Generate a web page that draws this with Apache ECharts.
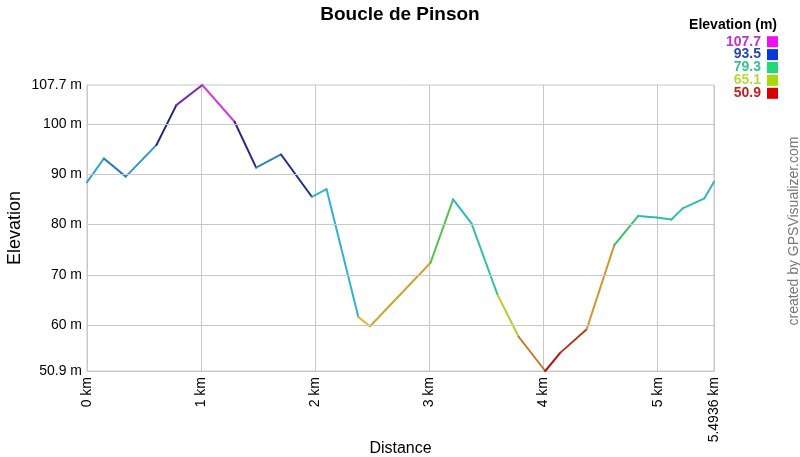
<!DOCTYPE html>
<html><head><meta charset="utf-8">
<script src="https://cdn.jsdelivr.net/npm/echarts@6/dist/echarts.min.js"></script>
<style>html,body{margin:0;padding:0;background:#fff}#c{width:800px;height:457px}</style>
</head><body><div id="c"></div>
<script>
const title = 'Boucle de Pinson';
const distanceKm = [0, 0.148, 0.34, 0.609, 0.783, 1.01, 1.293, 1.482, 1.70, 1.97, 2.099, 2.378, 2.480, 3.010, 3.208, 3.369, 3.598, 3.782, 4.015, 4.146, 4.378, 4.620, 4.830, 4.99, 5.12, 5.22, 5.41, 5.4936];
const elevationM = [88.4, 93.1, 89.5, 95.8, 103.7, 107.7, 100.4, 91.3, 93.9, 85.5, 87.0, 61.6, 59.8, 72.4, 85.0, 80.2, 66.0, 57.7, 50.9, 54.5, 59.2, 75.9, 81.7, 81.4, 81.0, 83.2, 85.2, 88.5];
const yTicks = [50.9, 60, 70, 80, 90, 100, 107.7];
const xMax = 5.4936;
const legendValues = [107.7, 93.5, 79.3, 65.1, 50.9];
const legendTextColors = ['#c030c8', '#2848a8', '#30c890', '#b8d840', '#c82020'];
const legendBoxColors = ['#ee10ee', '#0838d8', '#20d878', '#a8d810', '#d80000'];

// elevation -> colour stops (style)
const colorStops = [
  [50.9, '#b01414'], [54.5, '#b03c1c'], [57.7, '#c07a2c'], [60, '#d2a830'], [62, '#d8be30'],
  [66, '#b8cc38'], [72, '#58c04c'], [76, '#3cc068'], [80, '#30c0a8'], [85, '#30b8c0'],
  [87, '#30b0d0'], [89.5, '#3096c8'], [93.2, '#2878b8'], [93.8, '#1e3080'], [98, '#1a2070'],
  [101, '#3a2888'], [104, '#8030a8'], [107.7, '#d040d0']
];
function colorFor(v) {
  for (let i = 0; i < colorStops.length - 1; i++) {
    const a = colorStops[i], b = colorStops[i + 1];
    if (v <= b[0]) {
      const t = Math.max(0, (v - a[0]) / (b[0] - a[0]));
      return echarts.color.lerp(t, [a[1], b[1]]);
    }
  }
  return colorStops[colorStops.length - 1][1];
}

const chart = echarts.init(document.getElementById('c'), null, {renderer: 'canvas'});
const F = '"Liberation Sans", Arial, sans-serif';
const data = distanceKm.map((d, i) => [d, elevationM[i]]);

const graphic = [
  {type: 'text', x: 777, y: 25, style: {text: 'Elevation (m)', font: 'bold 14px ' + F, fill: '#000', align: 'right', verticalAlign: 'middle'}},
  {type: 'text', x: 794.5, y: 231, rotation: Math.PI / 2,
   style: {text: 'created by GPSVisualizer.com', font: '14px ' + F, fill: '#777', align: 'center', verticalAlign: 'middle'}}
];
legendValues.forEach((v, i) => {
  const y = 41.7 + i * 12.9;
  graphic.push({type: 'text', x: 761, y: y, style: {text: String(v), font: 'bold 14px ' + F, fill: legendTextColors[i], align: 'right', verticalAlign: 'middle'}});
  graphic.push({type: 'rect', shape: {x: 767, y: y - 5.5, width: 11, height: 11}, style: {fill: legendBoxColors[i]}});
});

const series = [];
for (let i = 0; i < data.length - 1; i++) {
  series.push({
    type: 'line', data: [data[i], data[i + 1]], showSymbol: false, silent: true,
    lineStyle: {width: 2, color: colorFor(elevationM[i]), cap: 'round'},
    z: 3
  });
}
series.push({
  type: 'line', data: [], showSymbol: false,
  markLine: {silent: true, symbol: 'none', label: {show: false},
    lineStyle: {color: '#c8c8c8', width: 1, type: 'solid'},
    data: yTicks.slice(1, -1).map(v => ({yAxis: v}))},
  z: 1
});

chart.setOption({
  animation: false,
  title: {text: title, left: 'center', top: 0, textStyle: {fontFamily: F, fontSize: 19, fontWeight: 'bold', color: '#000'}},
  grid: {left: 87, right: 86, top: 85, bottom: 86, containLabel: false, outerBoundsMode: 'none',
    show: true, borderColor: '#c8c8c8', borderWidth: 1},
  xAxis: {
    type: 'value', min: 0, max: xMax, interval: 1,
    name: 'Distance', nameLocation: 'middle', nameGap: 70, nameMoveOverlap: false,
    nameTextStyle: {fontFamily: F, fontSize: 16, color: '#000'},
    axisLine: {show: true, lineStyle: {color: '#c8c8c8'}},
    axisTick: {show: false},
    splitLine: {show: true, lineStyle: {color: '#c8c8c8', width: 1}},
    axisLabel: {rotate: 90, margin: 6, fontFamily: F, fontSize: 14, color: '#000',
      showMaxLabel: true, formatter: v => v + ' km'}
  },
  yAxis: {
    type: 'value', min: yTicks[0], max: yTicks[yTicks.length - 1],
    name: 'Elevation', nameLocation: 'middle', nameGap: 63, nameRotate: 90, nameMoveOverlap: false,
    nameTextStyle: {fontFamily: F, fontSize: 18, color: '#000'},
    axisLine: {show: true, lineStyle: {color: '#c8c8c8'}},
    axisTick: {show: false, customValues: yTicks},
    splitLine: {show: false},
    axisLabel: {customValues: yTicks, margin: 5, fontFamily: F, fontSize: 14, color: '#000', formatter: v => v + ' m'}
  },
  graphic: graphic,
  series: series
});
</script></body></html>
